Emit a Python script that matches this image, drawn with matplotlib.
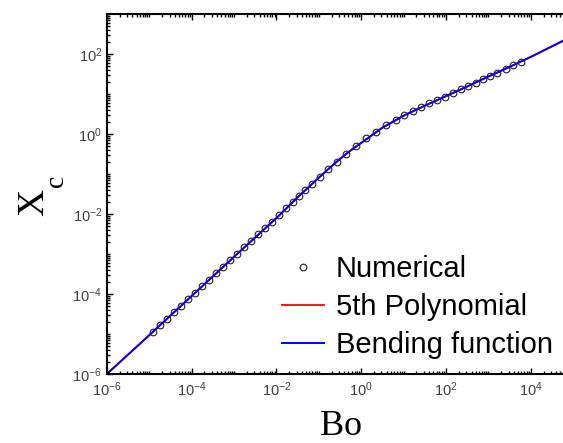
import matplotlib as mpl
mpl.use('Agg')
import matplotlib.pyplot as plt
import matplotlib.ticker as mticker
import numpy as np

# numerical results (log10 values)
num_log_bo = [-4.91, -4.75, -4.58, -4.42, -4.25, -4.09, -3.92, -3.76, -3.59, -3.43,
              -3.26, -3.10, -2.93, -2.77, -2.60, -2.44, -2.27, -2.11, -1.95,
              -1.78, -1.62, -1.47, -1.32, -1.16, -0.98, -0.78, -0.57, -0.35, -0.12,
              0.11, 0.35, 0.58, 0.81, 1.02, 1.23, 1.41, 1.61, 1.79, 1.97, 2.16,
              2.35, 2.52, 2.70, 2.87, 3.05, 3.21, 3.41, 3.59, 3.76]
num_log_xc = [-4.94, -4.78, -4.62, -4.46, -4.29, -4.13, -3.97, -3.81, -3.64, -3.48,
              -3.32, -3.16, -2.99, -2.83, -2.67, -2.51, -2.35, -2.19, -2.03,
              -1.84, -1.69, -1.54, -1.39, -1.24, -1.07, -0.88, -0.69, -0.49, -0.29,
              -0.11, 0.06, 0.22, 0.35, 0.47, 0.58, 0.67, 0.77, 0.85, 0.93, 1.02,
              1.12, 1.20, 1.28, 1.37, 1.45, 1.54, 1.62, 1.72, 1.81]

# fitted curves (log10 values)
fit_log_bo = [-6, -5, -4, -3, -2, -1.5, -1, -0.75, -0.5, -0.25, 0, 0.25, 0.5, 0.75,
              1, 1.5, 2, 2.5, 3, 3.5, 4, 5]
poly_log_xc = [-6, -5.03, -4.05, -3.07, -2.10, -1.58, -1.09, -0.85, -0.62, -0.41,
               -0.22, -0.03, 0.16, 0.31, 0.46, 0.71, 0.95, 1.19, 1.44, 1.68, 1.93, 2.46]
bend_log_xc = [-6, -5.03, -4.05, -3.07, -2.10, -1.58, -1.09, -0.85, -0.62, -0.41,
               -0.22, -0.03, 0.16, 0.31, 0.46, 0.71, 0.95, 1.19, 1.44, 1.68, 1.93, 2.46]

plt.rcParams['font.family'] = 'Liberation Sans'
plt.rcParams['mathtext.fontset'] = 'custom'
plt.rcParams['mathtext.rm'] = 'Liberation Serif'

fig = plt.figure(figsize=(5.63, 4.43), dpi=100)
ax = fig.add_axes([0.190, 0.156, 0.828, 0.812])

ax.plot(10.0 ** np.array(num_log_bo), 10.0 ** np.array(num_log_xc), 'o',
        ms=4.8, mfc='none', mec='#202020', mew=0.8, label='Numerical')
ax.plot(10.0 ** np.array(fit_log_bo), 10.0 ** np.array(poly_log_xc), '-',
        color='red', lw=1.3, label='5th Polynomial')
ax.plot(10.0 ** np.array(fit_log_bo), 10.0 ** np.array(bend_log_xc), '-',
        color='blue', lw=1.4, label='Bending function')

ax.set_xscale('log')
ax.set_yscale('log')
ax.set_xlim(1e-6, 1e5)
ax.set_ylim(1e-6, 1e3)

ax.xaxis.set_major_locator(mticker.FixedLocator([1e-6, 1e-4, 1e-2, 1e0, 1e2, 1e4]))
ax.yaxis.set_major_locator(mticker.FixedLocator([1e-6, 1e-4, 1e-2, 1e0, 1e2]))
for axis in (ax.xaxis, ax.yaxis):
    axis.set_minor_locator(mticker.LogLocator(base=10, subs=np.arange(1, 10), numticks=30))
    axis.set_minor_formatter(mticker.NullFormatter())

ax.tick_params(which='both', direction='in', top=True, right=True,
               labelsize=10.5, labelcolor='#404040', width=1.0)
ax.tick_params(which='major', length=4)
ax.tick_params(which='minor', length=2)
ax.tick_params(axis='x', pad=5)
for s in ax.spines.values():
    s.set_linewidth(1.5)

ax.set_xlabel(r'$\mathrm{Bo}$', fontsize=26, labelpad=6)

# y label: X with a lowered subscript c
fig.text(34 / 563, 1 - 203 / 443, r'$\mathrm{X}$', fontsize=27, rotation=90,
         ha='center', va='center')
fig.text(57 / 563, 1 - 182 / 443, r'$\mathrm{c}$', fontsize=20, rotation=90,
         ha='center', va='center')

ax.legend(loc='lower right', frameon=False, fontsize=21, handlelength=1.45,
          handletextpad=0.4, labelspacing=0.34, borderaxespad=0.1,
          bbox_to_anchor=(0.988, 0.0))

fig.savefig('out.png', dpi=100)
